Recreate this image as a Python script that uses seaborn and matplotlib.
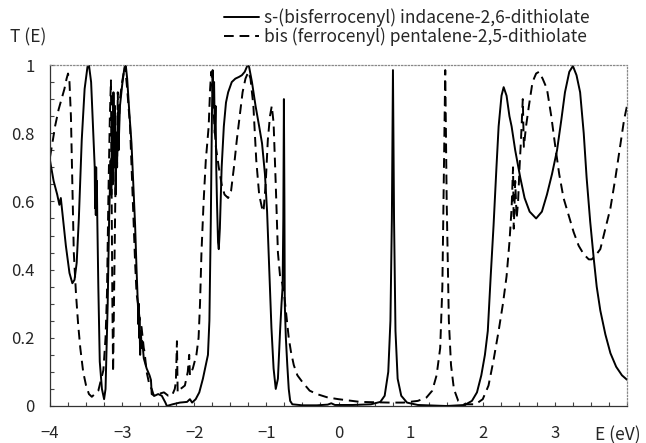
import numpy as np
import pandas as pd
import matplotlib
matplotlib.use("Agg")
import matplotlib.pyplot as plt
from matplotlib.ticker import MultipleLocator, FixedLocator
import seaborn as sns

# s-(bisferrocenyl) indacene-2,6-dithiolate  (solid)
E_indacene = [
    -4.00, -3.95, -3.90, -3.87, -3.85, -3.83, -3.78, -3.73, -3.69, -3.66,
    -3.63, -3.60, -3.56, -3.52, -3.48, -3.46, -3.43, -3.40, -3.38, -3.375,
    -3.37, -3.365, -3.36, -3.355, -3.35, -3.345, -3.33, -3.31, -3.28, -3.25,
    -3.23, -3.20, -3.18, -3.16, -3.15, -3.14, -3.13, -3.12, -3.11, -3.10,
    -3.09, -3.08, -3.07, -3.06, -3.05, -3.03, -3.00, -2.97, -2.95, -2.93,
    -2.90, -2.87, -2.84, -2.82, -2.80, -2.78, -2.775, -2.77, -2.765, -2.76,
    -2.75, -2.74, -2.73, -2.72, -2.70, -2.66, -2.62, -2.60, -2.59, -2.55,
    -2.50, -2.45, -2.40, -2.38, -2.30, -2.20, -2.10, -2.06, -2.03, -1.98,
    -1.93, -1.88, -1.84, -1.81, -1.79, -1.77, -1.755, -1.745, -1.735, -1.725,
    -1.715, -1.705, -1.695, -1.685, -1.67, -1.66, -1.645, -1.62, -1.59, -1.56,
    -1.53, -1.48, -1.43, -1.38, -1.34, -1.30, -1.26, -1.24, -1.20, -1.15,
    -1.10, -1.06, -1.02, -0.99, -0.96, -0.93, -0.90, -0.87, -0.84, -0.81,
    -0.79, -0.775, -0.765, -0.757, -0.75, -0.745, -0.73, -0.71, -0.69, -0.67,
    -0.64, -0.50, -0.30, -0.15, -0.10, -0.05, 0.20, 0.45, 0.58, 0.64,
    0.69, 0.72, 0.74, 0.755, 0.77, 0.79, 0.82, 0.87, 0.95, 1.10,
    1.50, 1.75, 1.85, 1.92, 1.98, 2.03, 2.07, 2.11, 2.15, 2.19,
    2.22, 2.26, 2.29, 2.33, 2.37, 2.40, 2.45, 2.52, 2.58, 2.65,
    2.74, 2.82, 2.89, 2.96, 3.03, 3.09, 3.14, 3.20, 3.25, 3.30,
    3.35, 3.40, 3.44, 3.49, 3.54, 3.58, 3.63, 3.70, 3.77, 3.85,
    3.93, 4.00,
]
T_indacene = [
    0.72, 0.66, 0.62, 0.59, 0.61, 0.57, 0.47, 0.39, 0.36, 0.37,
    0.42, 0.55, 0.78, 0.93, 0.995, 1.00, 0.95, 0.80, 0.70, 0.58,
    0.68, 0.56, 0.70, 0.60, 0.66, 0.56, 0.35, 0.13, 0.05, 0.02,
    0.05, 0.30, 0.55, 0.72, 0.62, 0.85, 0.65, 0.92, 0.70, 0.88,
    0.62, 0.80, 0.70, 0.86, 0.75, 0.88, 0.94, 0.99, 1.00, 0.96,
    0.86, 0.77, 0.63, 0.53, 0.40, 0.29, 0.24, 0.30, 0.20, 0.26,
    0.15, 0.22, 0.17, 0.19, 0.14, 0.11, 0.09, 0.076, 0.035, 0.03,
    0.035, 0.03, 0.01, 0.0, 0.005, 0.01, 0.012, 0.02, 0.01, 0.02,
    0.04, 0.08, 0.12, 0.15, 0.25, 0.55, 0.85, 0.985, 0.90, 0.95,
    0.80, 0.88, 0.70, 0.60, 0.48, 0.46, 0.52, 0.70, 0.82, 0.89,
    0.92, 0.95, 0.96, 0.965, 0.97, 0.98, 1.00, 0.995, 0.95, 0.88,
    0.82, 0.77, 0.68, 0.57, 0.40, 0.23, 0.11, 0.05, 0.08, 0.22,
    0.30, 0.35, 0.55, 0.90, 0.60, 0.30, 0.20, 0.12, 0.05, 0.015,
    0.005, 0.002, 0.002, 0.004, 0.008, 0.003, 0.003, 0.005, 0.012, 0.03,
    0.10, 0.25, 0.55, 0.985, 0.55, 0.22, 0.08, 0.03, 0.01, 0.003,
    0.0, 0.003, 0.015, 0.04, 0.09, 0.15, 0.22, 0.38, 0.53, 0.70,
    0.82, 0.91, 0.935, 0.91, 0.85, 0.82, 0.75, 0.67, 0.61, 0.57,
    0.55, 0.57, 0.62, 0.68, 0.75, 0.84, 0.92, 0.98, 0.997, 0.97,
    0.92, 0.80, 0.67, 0.54, 0.43, 0.35, 0.28, 0.21, 0.155, 0.115,
    0.09, 0.077,
]

# bis (ferrocenyl) pentalene-2,5-dithiolate  (dashed)
E_pentalene = [
    -4.00, -3.96, -3.93, -3.88, -3.84, -3.80, -3.77, -3.75, -3.73, -3.71,
    -3.69, -3.67, -3.64, -3.61, -3.58, -3.54, -3.50, -3.46, -3.42, -3.38,
    -3.33, -3.29, -3.26, -3.23, -3.21, -3.19, -3.17, -3.155, -3.145, -3.135,
    -3.125, -3.11, -3.095, -3.08, -3.07, -3.06, -3.05, -3.03, -3.00, -2.96,
    -2.93, -2.89, -2.86, -2.84, -2.82, -2.80, -2.78, -2.76, -2.73, -2.70,
    -2.69, -2.66, -2.62, -2.59, -2.56, -2.50, -2.42, -2.36, -2.31, -2.27,
    -2.255, -2.24, -2.23, -2.19, -2.13, -2.09, -2.07, -2.06, -2.02, -1.97,
    -1.94, -1.92, -1.90, -1.87, -1.84, -1.80, -1.78, -1.765, -1.755, -1.74,
    -1.72, -1.70, -1.66, -1.62, -1.58, -1.53, -1.49, -1.45, -1.41, -1.37,
    -1.33, -1.29, -1.25, -1.22, -1.18, -1.14, -1.10, -1.06, -1.04, -1.01,
    -0.98, -0.95, -0.925, -0.90, -0.87, -0.84, -0.81, -0.78, -0.75, -0.72,
    -0.69, -0.66, -0.62, -0.57, -0.50, -0.40, -0.30, -0.15, 0.00, 0.30,
    0.70, 0.90, 1.10, 1.22, 1.30, 1.36, 1.41, 1.44, 1.465, 1.48,
    1.50, 1.53, 1.56, 1.60, 1.66, 1.75, 1.90, 2.00, 2.08, 2.15,
    2.22, 2.28, 2.33, 2.37, 2.40, 2.42, 2.43, 2.45, 2.47, 2.49,
    2.51, 2.53, 2.555, 2.57, 2.60, 2.64, 2.69, 2.74, 2.78, 2.83,
    2.89, 2.95, 3.00, 3.06, 3.12, 3.19, 3.26, 3.33, 3.40, 3.47,
    3.51, 3.56, 3.63, 3.70, 3.77, 3.84, 3.91, 3.96, 4.00,
]
T_pentalene = [
    0.73, 0.78, 0.82, 0.87, 0.90, 0.93, 0.96, 0.975, 0.95, 0.85,
    0.65, 0.45, 0.33, 0.24, 0.17, 0.10, 0.06, 0.035, 0.027, 0.035,
    0.045, 0.08, 0.105, 0.20, 0.33, 0.62, 0.85, 0.955, 0.60, 0.30,
    0.10, 0.35, 0.60, 0.80, 0.70, 0.92, 0.80, 0.90, 0.95, 1.00,
    0.93, 0.82, 0.65, 0.53, 0.42, 0.33, 0.30, 0.26, 0.23, 0.17,
    0.16, 0.10, 0.06, 0.05, 0.03, 0.035, 0.04, 0.03, 0.03, 0.05,
    0.07, 0.19, 0.04, 0.05, 0.06, 0.10, 0.15, 0.09, 0.11, 0.15,
    0.20, 0.30, 0.45, 0.60, 0.72, 0.82, 0.93, 0.98, 0.96, 0.90,
    0.82, 0.76, 0.70, 0.65, 0.62, 0.61, 0.63, 0.70, 0.78, 0.85,
    0.92, 0.96, 0.98, 0.96, 0.88, 0.72, 0.62, 0.58, 0.57, 0.65,
    0.78, 0.85, 0.88, 0.83, 0.65, 0.45, 0.38, 0.36, 0.32, 0.26,
    0.20, 0.16, 0.12, 0.09, 0.07, 0.045, 0.035, 0.025, 0.02, 0.012,
    0.01, 0.01, 0.015, 0.025, 0.045, 0.09, 0.17, 0.35, 0.75, 0.985,
    0.60, 0.25, 0.12, 0.05, 0.015, 0.005, 0.005, 0.02, 0.06, 0.135,
    0.22, 0.30, 0.38, 0.48, 0.58, 0.70, 0.52, 0.66, 0.55, 0.60,
    0.70, 0.78, 0.90, 0.76, 0.82, 0.88, 0.95, 0.975, 0.98, 0.96,
    0.93, 0.85, 0.77, 0.68, 0.61, 0.56, 0.51, 0.47, 0.445, 0.43,
    0.43, 0.44, 0.46, 0.52, 0.58, 0.67, 0.77, 0.84, 0.88,
]

series_labels = [
    "s-(bisferrocenyl) indacene-2,6-dithiolate",
    "bis (ferrocenyl) pentalene-2,5-dithiolate",
]
x_tick_values = [-4, -3, -2, -1, 0, 1, 2, 3, 4]
x_tick_labels = ["\u22124", "\u22123", "\u22122", "\u22121", "0", "1", "2", "3", ""]
y_tick_values = [0, 0.2, 0.4, 0.6, 0.8, 1.0]
y_tick_labels = ["0", "0.2", "0.4", "0.6", "0.8", "1"]

df = pd.concat([
    pd.DataFrame({"E": E_indacene, "T": T_indacene, "series": series_labels[0]}),
    pd.DataFrame({"E": E_pentalene, "T": T_pentalene, "series": series_labels[1]}),
])

sns.set_style("white")
plt.rcParams["font.family"] = ["Noto Sans CJK JP", "DejaVu Sans"]
plt.rcParams["font.size"] = 12

fig = plt.figure(figsize=(6.46, 4.43), dpi=100)
ax = fig.add_axes([50 / 646, 37 / 443, 577 / 646, 341 / 443])

sns.lineplot(
    data=df, x="E", y="T", style="series",
    dashes={series_labels[0]: "", series_labels[1]: (5, 3)},
    color="black", linewidth=1.4, estimator=None, sort=False,
    legend=False, ax=ax,
)

ax.set_xlim(-4, 4)
ax.set_ylim(0, 1)
ax.xaxis.set_major_locator(FixedLocator(x_tick_values))
ax.set_xticklabels(x_tick_labels)
ax.xaxis.set_minor_locator(MultipleLocator(0.25))
ax.yaxis.set_major_locator(FixedLocator(y_tick_values))
ax.set_yticklabels(y_tick_labels)
ax.yaxis.set_minor_locator(MultipleLocator(0.05))
ax.tick_params(axis="both", which="both", direction="in", length=3,
               width=0.8, color="#444444", labelsize=12,
               bottom=True, left=True, top=False, right=False)
ax.tick_params(axis="x", which="major", pad=14)
ax.tick_params(axis="y", which="major", pad=11)
ax.set_xlabel("")
ax.set_ylabel("")

for side in ["left", "bottom"]:
    ax.spines[side].set_color("#333333")
    ax.spines[side].set_linewidth(0.9)
for side in ["top", "right"]:
    ax.spines[side].set_color("#888888")
    ax.spines[side].set_linestyle(":")
    ax.spines[side].set_linewidth(0.9)

fig.text(10 / 646, 1 - 37 / 443, "T (E)", ha="left", va="center", fontsize=12.5)
fig.text(641 / 646, 1 - 435 / 443, "E (eV)", ha="right", va="center", fontsize=12.5)

handles = ax.lines[:2]
fig.legend(handles, series_labels, loc="upper left",
           bbox_to_anchor=(224 / 646, 1 - 8 / 443), frameon=False,
           fontsize=12.5, handlelength=2.0, handletextpad=0.3,
           labelspacing=0.05, borderpad=0, borderaxespad=0)

fig.savefig("out.png", dpi=100)
